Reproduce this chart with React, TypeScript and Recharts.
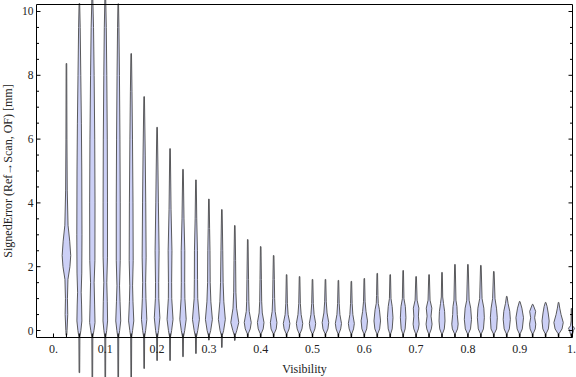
import React from 'react';
import { ComposedChart, XAxis, YAxis, Scatter, ReferenceArea, Label } from 'recharts';

// violin positions along Visibility
const POSITIONS = [
  0.025, 0.05, 0.075, 0.1, 0.125, 0.15, 0.175, 0.2, 0.225, 0.25,
  0.275, 0.3, 0.325, 0.35, 0.375, 0.4, 0.425, 0.45, 0.475, 0.5,
  0.525, 0.55, 0.575, 0.6, 0.625, 0.65, 0.675, 0.7, 0.725, 0.75,
  0.775, 0.8, 0.825, 0.85, 0.875, 0.9, 0.925, 0.95, 0.975, 1.0,
];

// upper end of each violin's tail [mm]
const TOPS = [
  8.37, 10.25, 10.6, 10.6, 10.24, 8.68, 7.33, 6.37, 5.7, 5.05,
  4.72, 4.12, 3.79, 3.29, 2.85, 2.63, 2.35, 1.75, 1.69, 1.6,
  1.6, 1.57, 1.54, 1.63, 1.79, 1.75, 1.88, 1.69, 1.75, 1.82,
  2.07, 2.07, 2.04, 1.85, 1.07, 0.91, 0.82, 0.88, 0.88, 0.69,
];

// lower end of each violin's tail [mm]
const BOTTOMS = [
  -0.15, -1.32, -1.6, -1.6, -1.6, -1.5, -1.19, -0.94, -0.94, -0.82,
  -0.72, -0.3, -0.53, -0.31, -0.2, -0.2, -0.2, -0.2, -0.2, -0.2,
  -0.2, -0.2, -0.2, -0.2, -0.2, -0.2, -0.2, -0.2, -0.2, -0.2,
  -0.2, -0.2, -0.2, -0.2, -0.2, -0.2, -0.2, -0.2, -0.2, -0.2,
];

// density profile knots [value, relative density] between the tail ends
const PROFILES: number[][][] = [
  [[0, 0.6], [0.5, 1.3], [1.0, 1.0], [1.6, 1.5], [2.0, 3.5], [2.35, 4.3], [2.8, 3.3], [3.3, 1.6], [4.4, 0.8], [6, 0.5]],
  [[-0.2, 0.5], [0, 1.5], [0.3, 2.5], [0.8, 2.2], [1.2, 1.8], [1.8, 2.4], [3, 2.6], [5, 2.4], [6.5, 2], [8, 1.4], [9.5, 0.8]],
  [[-0.2, 0.5], [0, 1.6], [0.25, 2.7], [0.8, 2.3], [1.5, 1.8], [2.2, 2.6], [4, 2.7], [6, 2.4], [8, 1.8], [9.5, 1.2]],
  [[-0.2, 0.5], [0, 1.4], [0.3, 2.3], [0.9, 2.0], [1.5, 1.5], [2.3, 2.2], [4, 2.2], [6, 2], [8, 1.5], [9.5, 1]],
  [[-0.2, 0.5], [0, 1.4], [0.3, 2.5], [0.9, 1.8], [1.4, 1.3], [2.2, 2], [4, 2], [6, 1.7], [8, 1.2], [9.5, 0.7]],
  [[-0.2, 0.5], [0, 1.4], [0.3, 2.6], [0.9, 1.8], [1.4, 1.4], [2.2, 2], [4, 1.8], [6, 1.3], [7.5, 0.8]],
  [[-0.2, 0.5], [0, 1.5], [0.35, 2.7], [1.0, 1.8], [1.5, 1.5], [2.3, 2], [4, 1.6], [5.5, 1.1]],
  [[-0.2, 0.5], [0, 1.5], [0.4, 2.8], [1.0, 1.7], [1.5, 1.6], [2.5, 2], [4, 1.3], [5, 0.9]],
  [[-0.2, 0.5], [0, 1.6], [0.35, 3], [1.0, 1.7], [1.5, 1.6], [2.5, 1.9], [3.8, 1]],
  [[-0.2, 0.5], [0, 1.7], [0.35, 3.2], [1.0, 1.9], [1.5, 1.7], [2.5, 1.8], [3.5, 1]],
  [[-0.2, 0.5], [0, 1.8], [0.35, 3.5], [1.0, 1.8], [1.6, 1.6], [2.5, 1.5], [3.5, 0.8]],
  [[-0.15, 0.5], [0, 1.8], [0.35, 3.5], [0.9, 2], [1.5, 1.3], [2.5, 1.1], [3.2, 0.7]],
  [[-0.15, 0.5], [0, 1.8], [0.35, 3.5], [0.9, 2], [1.5, 1.3], [2.5, 0.9]],
  [[-0.15, 0.5], [0, 2], [0.25, 4], [0.7, 1.8], [1.2, 1.1], [2.2, 0.8]],
  [[-0.1, 0.5], [0.05, 2.5], [0.25, 3.5], [0.6, 1.5], [0.9, 1.1], [1.6, 0.8]],
  [[-0.1, 0.5], [0.05, 2.5], [0.25, 3.3], [0.55, 1.6], [0.9, 1], [1.6, 0.7]],
  [[-0.1, 0.5], [0.05, 2.6], [0.25, 3.3], [0.6, 1.5], [1.0, 1], [1.6, 0.7]],
  [[-0.1, 0.5], [0.05, 2.5], [0.22, 3.3], [0.5, 1.5], [0.85, 0.8]],
  [[-0.1, 0.5], [0.05, 2.4], [0.22, 3.2], [0.5, 1.6], [0.85, 0.8]],
  [[-0.1, 0.5], [0.05, 2.4], [0.22, 3.2], [0.5, 1.6], [0.85, 0.8]],
  [[-0.1, 0.5], [0.05, 2.5], [0.25, 3.3], [0.55, 1.6], [0.9, 0.8]],
  [[-0.1, 0.5], [0.05, 2.3], [0.22, 3.1], [0.5, 1.5], [0.85, 0.8]],
  [[-0.1, 0.5], [0.05, 2.2], [0.22, 3.0], [0.5, 1.5], [0.85, 0.8]],
  [[-0.1, 0.5], [0.05, 2.4], [0.3, 3.2], [0.6, 1.7], [0.9, 0.8]],
  [[-0.1, 0.5], [0.05, 2.4], [0.3, 3.3], [0.65, 2.2], [0.85, 1], [1.1, 0.7]],
  [[-0.1, 0.5], [0.05, 2], [0.4, 2.8], [0.75, 2], [1.0, 0.8]],
  [[-0.1, 0.5], [0.05, 2], [0.4, 2.8], [0.75, 2.2], [1.0, 0.8]],
  [[-0.1, 0.5], [0.05, 2.3], [0.2, 3], [0.45, 2.3], [0.7, 2.8], [0.95, 1]],
  [[-0.1, 0.5], [0.05, 2.3], [0.2, 3], [0.45, 2], [0.7, 2.8], [0.95, 1]],
  [[-0.1, 0.5], [0.05, 2.3], [0.3, 3], [0.6, 2.6], [0.85, 1.5], [1.05, 0.7]],
  [[-0.1, 0.5], [0.05, 2.6], [0.2, 3.2], [0.5, 2.3], [0.75, 2], [0.95, 1]],
  [[-0.1, 0.5], [0.05, 2.6], [0.35, 3.6], [0.7, 2.8], [0.95, 1.2]],
  [[-0.1, 0.5], [0.05, 2.6], [0.4, 3.5], [0.7, 3], [1.0, 1.2]],
  [[-0.1, 0.5], [0.05, 2.8], [0.4, 3.5], [0.7, 2.7], [1.0, 1.2]],
  [[-0.1, 0.5], [0.05, 2.6], [0.35, 3.6], [0.6, 3], [0.85, 1.3]],
  [[-0.1, 0.5], [0.05, 2.6], [0.4, 3.8], [0.7, 2.2]],
  [[-0.1, 0.5], [0.05, 2.6], [0.2, 3.1], [0.4, 2], [0.6, 3]],
  [[-0.1, 0.5], [0.05, 2.8], [0.3, 3.6], [0.55, 2.6], [0.75, 1.5]],
  [[-0.1, 0.5], [0.05, 3.5], [0.25, 4.7], [0.5, 2.5], [0.7, 1.2]],
  [[0, 2], [0.07, 3], [0.15, 1], [0.3, 0.4]],
];

const X_TICKS = [
  0, 0.025, 0.05, 0.075, 0.1, 0.125, 0.15, 0.175, 0.2, 0.225, 0.25, 0.275, 0.3, 0.325,
  0.35, 0.375, 0.4, 0.425, 0.45, 0.475, 0.5, 0.525, 0.55, 0.575, 0.6, 0.625, 0.65,
  0.675, 0.7, 0.725, 0.75, 0.775, 0.8, 0.825, 0.85, 0.875, 0.9, 0.925, 0.95, 0.975, 1,
];
const X_LABELS: Record<string, string> = {
  '0': '0.', '0.1': '0.1', '0.2': '0.2', '0.3': '0.3', '0.4': '0.4', '0.5': '0.5',
  '0.6': '0.6', '0.7': '0.7', '0.8': '0.8', '0.9': '0.9', '1': '1.',
};
const Y_TICKS = [0, 0.5, 1, 1.5, 2, 2.5, 3, 3.5, 4, 4.5, 5, 5.5, 6, 6.5, 7, 7.5, 8, 8.5, 9, 9.5, 10];
const Y_LABELS: Record<string, string> = { '0': '0', '2': '2', '4': '4', '6': '6', '8': '8', '10': '10' };

const X_DOMAIN = [-0.0328, 1.0019];
const Y_DOMAIN = [-0.2194, 10.2194];

const HALF_W = 0.0125;
const DENSITY_MAX = 6.5;
const TAIL = 0.3;
const FONT = '"Liberation Serif", "Times New Roman", serif';
const FILL = '#ccd0f6';
const EDGE = '#4a4a4a';

const violinShape = (i: number) => (props: any) => {
  const { x, y, width, height } = props;
  const lo = BOTTOMS[i];
  const hi = TOPS[i];
  const knots = [[lo, TAIL], ...PROFILES[i], [hi, TAIL]];
  const cx = x + width / 2;
  const py = (v: number) => y + (height * (hi - v)) / (hi - lo);
  const hw = (d: number) => (d / DENSITY_MAX) * (width / 2);
  const left = knots.map(([v, d]) => `${(cx - hw(d)).toFixed(2)},${py(v).toFixed(2)}`);
  const right = knots
    .slice()
    .reverse()
    .map(([v, d]) => `${(cx + hw(d)).toFixed(2)},${py(v).toFixed(2)}`);
  return (
    <path
      d={`M${left.join('L')}L${right.join('L')}Z`}
      fill={FILL}
      stroke={EDGE}
      strokeWidth={0.9}
      strokeLinejoin="round"
    />
  );
};

const BottomTick = (props: any) => {
  const { x, y, payload } = props;
  const label = X_LABELS[String(payload.value)];
  return (
    <g>
      <line x1={x} y1={y} x2={x} y2={y - 4} stroke="#000" />
      {label && (
        <text x={x} y={y + 15} textAnchor="middle" fontSize={12} fontFamily={FONT} fill="#222">
          {label}
        </text>
      )}
    </g>
  );
};

const TopTick = (props: any) => {
  const { x, y } = props;
  return <line x1={x} y1={y} x2={x} y2={y + 4} stroke="#000" />;
};

const LeftTick = (props: any) => {
  const { x, y, payload } = props;
  const label = Y_LABELS[String(payload.value)];
  return (
    <g>
      <line x1={x} y1={y} x2={x + (label ? 4 : 2.5)} y2={y} stroke="#000" />
      {label && (
        <text x={x - 3} y={y + 4} textAnchor="end" fontSize={11.5} fontFamily={FONT} fill="#222">
          {label}
        </text>
      )}
    </g>
  );
};

const RightTick = (props: any) => {
  const { x, y, payload } = props;
  const major = Y_LABELS[String(payload.value)];
  return <line x1={x} y1={y} x2={x - (major ? 4 : 2.5)} y2={y} stroke="#000" />;
};

const YTitle = (props: any) => {
  const vb = props.viewBox || { x: 0, y: 4.5, width: 36.5, height: 333 };
  const cx = 12;
  const cy = vb.y + vb.height / 2;
  return (
    <text
      x={cx}
      y={cy}
      transform={`rotate(-90, ${cx}, ${cy})`}
      textAnchor="middle"
      fontSize={12}
      fontFamily={FONT}
      fill="#222"
    >
      SignedError (Ref→Scan, OF) [mm]
    </text>
  );
};

const XTitle = (props: any) => {
  const vb = props.viewBox || { x: 36.5, y: 337.5, width: 536, height: 39.5 };
  return (
    <text x={vb.x + vb.width / 2} y={373} textAnchor="middle" fontSize={12} fontFamily={FONT} fill="#222">
      Visibility
    </text>
  );
};

const anchors = POSITIONS.map((p) => ({ x: p, y: 0 }));

export default function App() {
  return (
    <div style={{ position: 'absolute', left: 0, top: 0, background: '#fff' }}>
      <ComposedChart width={576} height={377} margin={{ top: 0, right: 0, bottom: 0, left: 0 }}>
        <XAxis
          type="number"
          dataKey="x"
          domain={X_DOMAIN}
          allowDataOverflow
          ticks={X_TICKS}
          interval={0}
          tickSize={0}
          tickMargin={0}
          tick={<BottomTick />}
          tickLine={false}
          axisLine={{ stroke: '#000' }}
          height={39.5}
        >
          <Label content={<XTitle />} />
        </XAxis>
        <XAxis
          xAxisId="top"
          orientation="top"
          type="number"
          domain={X_DOMAIN}
          allowDataOverflow
          ticks={X_TICKS}
          interval={0}
          tickSize={0}
          tickMargin={0}
          tick={<TopTick />}
          tickLine={false}
          axisLine={{ stroke: '#000' }}
          height={4.5}
        />
        <YAxis
          type="number"
          dataKey="y"
          domain={Y_DOMAIN}
          allowDataOverflow
          ticks={Y_TICKS}
          interval={0}
          tickSize={0}
          tickMargin={0}
          tick={<LeftTick />}
          tickLine={false}
          axisLine={{ stroke: '#000' }}
          width={36.5}
        >
          <Label content={<YTitle />} />
        </YAxis>
        <YAxis
          yAxisId="right"
          orientation="right"
          type="number"
          domain={Y_DOMAIN}
          allowDataOverflow
          ticks={Y_TICKS}
          interval={0}
          tickSize={0}
          tickMargin={0}
          tick={<RightTick />}
          tickLine={false}
          axisLine={{ stroke: '#000' }}
          width={3.5}
        />
        <Scatter data={anchors} isAnimationActive={false} shape={() => <g />} />
        {POSITIONS.map((p, i) => (
          <ReferenceArea
            key={p}
            x1={p - HALF_W}
            x2={p + HALF_W}
            y1={BOTTOMS[i]}
            y2={TOPS[i]}
            ifOverflow="visible"
            shape={violinShape(i)}
          />
        ))}
      </ComposedChart>
    </div>
  );
}
